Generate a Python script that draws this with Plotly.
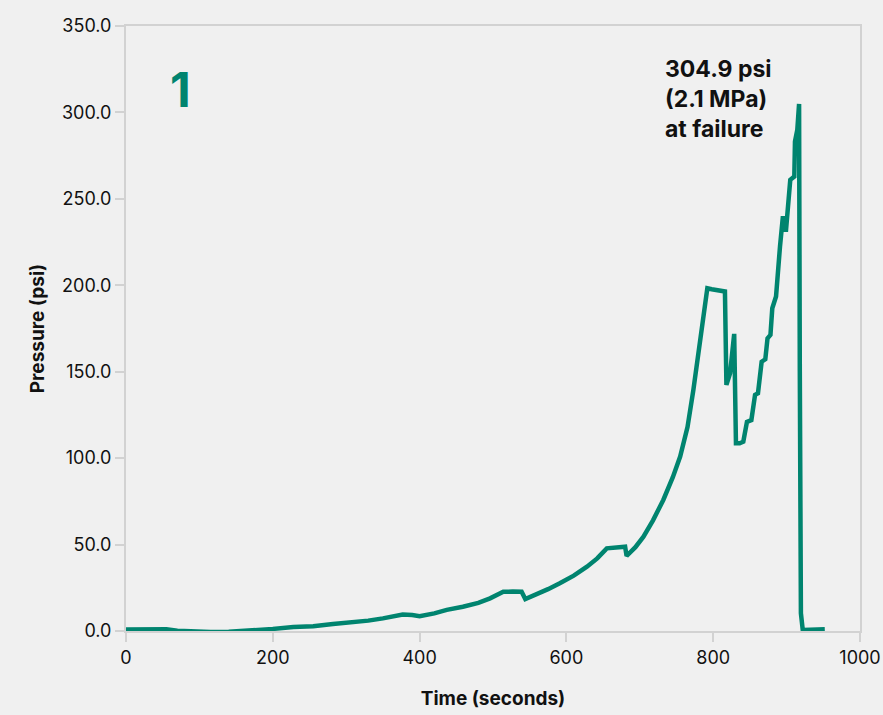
import plotly.graph_objects as go

# Pressure trace recorded during the burst test
time_s = [0, 20, 40, 55, 70, 90, 115, 140, 170, 200, 228, 255, 282, 310, 330, 350, 365,
          377, 390, 400, 420, 437, 459, 480, 496, 505, 514, 527, 539, 544, 560, 575, 591,
          610, 628, 642, 655, 668, 680, 682, 694, 705, 718, 732, 745, 755, 765, 773, 779,
          784, 792, 798, 807, 816, 818, 823, 828.6, 831, 836, 841, 846, 852, 857, 861, 866,
          871, 874, 878, 880.5, 885.6, 891, 895, 899, 905, 910.5, 911.4, 914.6, 917,
          918, 919.5, 922, 935, 945, 952]
pressure_psi = [0.8, 1.0, 1.1, 1.0, 0.2, -0.3, -0.6, -0.5, 0.2, 1.2, 2.3, 2.8, 4.0, 5.0,
                6.0, 7.3, 8.2, 9.5, 9.2, 8.6, 10.2, 12.2, 14.0, 16.3, 18.9, 21.0, 22.7,
                22.8, 22.7, 18.5, 21.2, 24.2, 27.6, 32.0, 37.2, 42.0, 47.8, 48.4, 48.8,
                43.4, 48.5, 54.6, 64.0, 75.8, 89.0, 100.9, 118.0, 139.5, 157.0,
                174.2, 198.3, 197.7, 197.1, 196.4, 142.4, 149.1, 171.9, 108.6, 108.6,
                109.5, 121.0, 122.0, 136.6, 137.5, 155.8, 157.2, 169.3, 171.3, 186.7,
                193.5, 222.4, 240.0, 231.0, 261.0, 262.9, 283.2, 290.0, 304.9, 150.0,
                10.2, 0.6, 0.6, 0.5, 1.0]

x_ticks = [0, 200, 400, 600, 800, 1000]
y_ticks = [0, 50, 100, 150, 200, 250, 300, 350]

failure_label = "304.9 psi<br>(2.1 MPa)<br>at failure"
panel_label = "1"

teal = "#00846f"
axis_grey = "#d2d2d2"
bg = "#f0f0f0"
font_family = "Inter, Lato, sans-serif"

fig = go.Figure()
fig.add_trace(go.Scatter(
    x=time_s, y=pressure_psi, mode="lines",
    line=dict(color=teal, width=4.5, shape="linear"),
    hoverinfo="x+y", showlegend=False,
))

fig.add_annotation(
    x=731, y=334.5, xref="x", yref="y",
    text="<b>" + failure_label + "</b>", showarrow=False,
    xanchor="left", yanchor="top",
    align="left", font=dict(family=font_family, size=23, color="#111111"),
)
fig.add_annotation(
    x=73.6, y=313, xref="x", yref="y",
    text="<b>" + panel_label + "</b>", showarrow=False,
    xanchor="center", yanchor="middle",
    font=dict(family=font_family, size=48, color=teal),
)

fig.update_layout(
    width=883, height=715,
    margin=dict(l=126, r=23, t=26, b=84, autoexpand=False),
    paper_bgcolor=bg, plot_bgcolor=bg,
    font=dict(family=font_family, size=18, color="#111111"),
)
fig.update_xaxes(
    range=[0, 1000], tickvals=x_ticks, ticktext=[str(v) for v in x_ticks],
    showgrid=False, zeroline=False, automargin=False,
    showline=True, linecolor=axis_grey, linewidth=2, mirror=True,
    ticks="outside", ticklen=9, tickwidth=2, tickcolor=axis_grey,
    tickfont=dict(size=18),
    title=dict(text="<b>Time (seconds)</b>", font=dict(size=19), standoff=25),
)
fig.update_yaxes(
    range=[0, 350], tickvals=y_ticks, ticktext=[f"{v:.1f}" for v in y_ticks],
    showgrid=False, zeroline=False, automargin=False,
    showline=True, linecolor=axis_grey, linewidth=2, mirror=True,
    ticks="outside", ticklen=9, tickwidth=2, tickcolor=axis_grey,
    tickfont=dict(size=18),
    title=dict(text="<b>Pressure (psi)</b>", font=dict(size=19), standoff=12),
)

fig.write_html("out.html")
